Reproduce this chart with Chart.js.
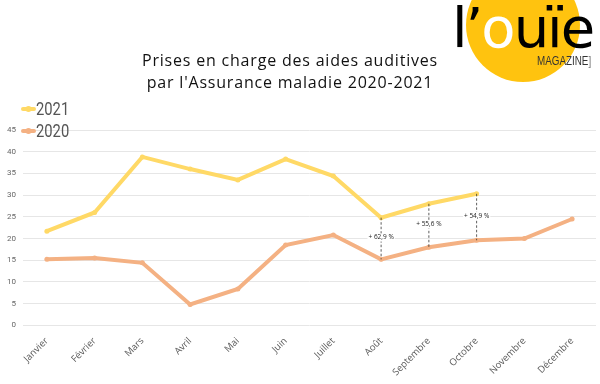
<!DOCTYPE html>
<html><head><meta charset="utf-8">
<script src="https://cdn.jsdelivr.net/npm/chart.js@4"></script>
<style>
html,body{margin:0;padding:0;background:#fff;}
#wrap{position:relative;width:600px;height:384px;overflow:hidden;}
#c{position:absolute;left:0;top:0;}
#circle{position:absolute;left:466px;top:-32px;width:114px;height:114px;border-radius:50%;background:#FFC30F;}
#logo{position:absolute;left:452px;top:-5px;font-family:"DejaVu Sans";font-size:56px;letter-spacing:-2px;color:#000;white-space:nowrap;}
#logo .o{color:#fff;}
#mag{position:absolute;left:537px;top:54px;font-family:"Liberation Sans";font-size:12px;color:#333;white-space:nowrap;transform:scaleX(0.82);transform-origin:left top;}
#mag b{font-weight:normal;color:#777;}
#title{position:absolute;left:0;width:580px;top:49px;text-align:center;font-family:"Open Sans";font-size:16px;line-height:22px;color:#111;letter-spacing:0.8px;}
</style></head>
<body><div id="wrap">
<canvas id="c" width="600" height="384"></canvas>
<div id="circle"></div>
<div id="logo">l’<span class="o">o</span>uïe</div>
<div id="mag">MAGAZINE<b>]</b></div>
<div id="title">Prises en charge des aides auditives<br>par l'Assurance maladie 2020-2021</div>
</div>
<script>
const months = ["Janvier","Février","Mars","Avril","Mai","Juin","Juillet","Août","Septembre","Octobre","Novembre","Décembre"];
const values2021 = [21.7,26.0,38.8,36.0,33.5,38.3,34.4,24.8,28.0,30.3,null,null];
const values2020 = [15.2,15.5,14.4,4.8,8.4,18.5,20.8,15.2,18.0,19.6,20.0,24.5];
const yTicks = [0,5,10,15,20,25,30,35,40,45];
const annotMonths = ["Août","Septembre","Octobre"];
const annotLabels = ["+ 62,9 %","+ 55,6 %","+ 54,9 %"];

const extras = {
  id:'extras',
  afterDatasetsDraw(chart){
    const ctx = chart.ctx;
    const xs = chart.scales.x, ys = chart.scales.y;
    ctx.save();
    annotMonths.forEach((m,i)=>{
      const idx = months.indexOf(m);
      const x = xs.getPixelForValue(idx);
      const y1 = ys.getPixelForValue(values2021[idx]);
      const y2 = ys.getPixelForValue(values2020[idx]);
      ctx.strokeStyle='#333';ctx.lineWidth=0.8;ctx.setLineDash([2.5,2]);
      ctx.beginPath();ctx.moveTo(x,y1);ctx.lineTo(x,y2);ctx.stroke();
      ctx.setLineDash([]);
      ctx.font='6.5px "Open Sans"';
      const t=annotLabels[i];const w=ctx.measureText(t).width;
      const ym=(y1+y2)/2-1;
      ctx.fillStyle='#fff';ctx.fillRect(x-w/2-1,ym-4,w+2,8);
      ctx.fillStyle='#222';ctx.textAlign='center';ctx.textBaseline='middle';
      ctx.fillText(t,x,ym);
    });
    // legend
    chart.data.datasets.forEach((ds,i)=>{
      const y = 109 + i*22;
      ctx.strokeStyle=ds.borderColor;ctx.lineWidth=4;ctx.lineCap='round';
      ctx.beginPath();ctx.moveTo(23,y);ctx.lineTo(34,y);ctx.stroke();
      ctx.fillStyle=ds.borderColor;ctx.beginPath();ctx.arc(28.5,y,3,0,Math.PI*2);ctx.fill();
      ctx.save();
      ctx.translate(36,y+1);ctx.scale(0.82,1);
      ctx.fillStyle='#555';ctx.font='18px Roboto';ctx.textAlign='left';ctx.textBaseline='middle';
      ctx.fillText(ds.label,0,0);
      ctx.restore();
    });
    ctx.restore();
  }
};

new Chart(document.getElementById('c'),{
  type:'line',
  data:{labels:months,datasets:[
    {label:'2021',data:values2021,borderColor:'#FFD966',backgroundColor:'#FFD966',borderWidth:4,pointRadius:2.5,pointBackgroundColor:'#FFD966',pointBorderWidth:0,tension:0,spanGaps:false},
    {label:'2020',data:values2020,borderColor:'#F4B183',backgroundColor:'#F4B183',borderWidth:4,pointRadius:2.5,pointBackgroundColor:'#F4B183',pointBorderWidth:0,tension:0}
  ]},
  options:{
    responsive:false,animation:false,
    layout:{padding:{top:130,right:4,left:0,bottom:4}},
    plugins:{legend:{display:false},title:{display:false},tooltip:{enabled:false}},
    scales:{
      y:{min:0,max:45,afterBuildTicks(s){s.ticks=yTicks.map(v=>({value:v}));},
        grid:{color:'#e6e6e6',drawTicks:false},border:{display:false},
        ticks:{color:'#666',font:{size:8,family:'Roboto'},padding:7}},
      x:{offset:true,grid:{display:false},border:{display:false},
        ticks:{color:'#595959',font:{size:9.5,family:'Open Sans'},maxRotation:45,minRotation:45,padding:2}}
    }
  },
  plugins:[extras]
});
</script>
</body></html>
